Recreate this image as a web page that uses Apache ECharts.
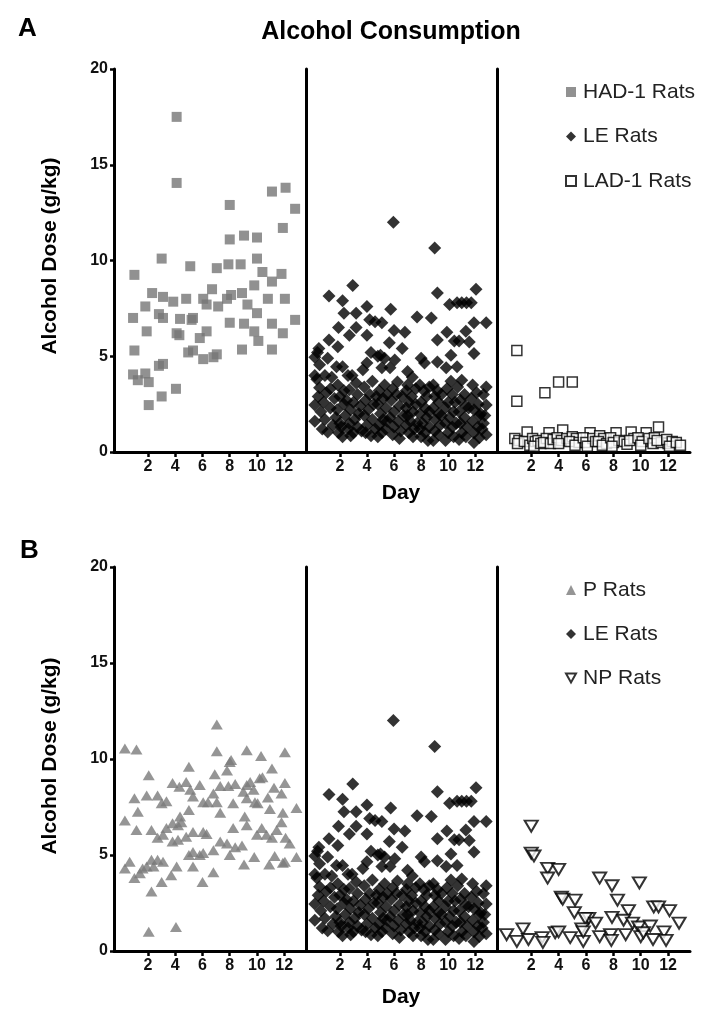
<!DOCTYPE html>
<html><head><meta charset="utf-8">
<script src="https://cdn.jsdelivr.net/npm/echarts@6/dist/echarts.min.js"></script>
<style>html,body{margin:0;padding:0;background:#fff}#c{width:715px;height:1024px}</style>
</head><body><div id="c"></div>
<script>
// ---------- DATA ----------
const dayTicks = [2, 4, 6, 8, 10, 12];
const doseMin = 0, doseMax = 20, doseStep = 5;

const legendA = ['HAD-1 Rats', 'LE Rats', 'LAD-1 Rats'];
const legendB = ['P Rats', 'LE Rats', 'NP Rats'];

// [day (jittered), dose g/kg]
const HAD1 = [
[4.1,17.5],[4.1,14.05],[11.1,13.6],[12.1,13.8],[12.8,12.7],[8.0,12.9],[11.9,11.7],[8.0,11.1],[9.05,11.3],[10.0,11.2],
[3.0,10.1],[10.0,10.1],[1.0,9.25],[5.1,9.7],[7.05,9.6],[7.9,9.8],[8.8,9.8],[10.4,9.4],[11.8,9.3],[11.1,8.9],[9.8,8.7],
[2.3,8.3],[3.1,8.1],[3.85,7.85],[4.8,8.0],[6.05,8.0],[6.3,7.7],[6.7,8.5],[7.15,7.6],[7.8,8.0],[8.1,8.2],[8.9,8.3],[9.3,7.7],[10.0,7.25],[10.8,8.0],[12.05,8.0],
[0.9,7.0],[1.8,7.6],[2.8,7.2],[3.1,7.0],[4.35,6.95],[5.2,6.9],[5.3,7.0],[1.9,6.3],[4.1,6.2],[4.3,6.1],[5.8,5.95],[6.3,6.3],[8.0,6.75],[9.05,6.7],[9.8,6.3],[10.1,5.8],[11.1,6.7],[11.9,6.2],[12.8,6.9],
[1.0,5.3],[4.95,5.2],[5.3,5.3],[6.05,4.85],[6.8,4.95],[7.05,5.1],[8.9,5.35],[11.1,5.35],[2.8,4.5],[3.1,4.6],
[0.9,4.05],[1.25,3.75],[1.8,4.1],[2.05,3.65],[3.0,2.9],[4.05,3.3],[2.05,2.45]
];

const LE = [
[0.15,4.95],[0.35,5.2],[0.45,5.4],[0.15,4.0],[0.5,4.55],[0.5,3.35],[0.15,2.45],[0.15,1.6],[1.1,4.9],[1.2,5.85],[1.2,8.15],[0.9,4.0],[1.4,3.9],[0.4,2.9],[0.8,2.6],[1.0,3.1],[0.6,2.1],[1.3,2.3],[0.9,1.7],[1.5,1.4],[0.7,1.2],[1.1,1.05],[1.6,2.8],[0.3,3.8],[1.3,3.3],
[1.9,6.5],[2.2,7.9],[2.3,7.25],[1.85,5.5],[1.75,4.45],[2.2,4.45],[1.85,3.5],[2.6,4.0],[2.0,2.9],[2.3,2.5],[1.8,2.2],[2.4,1.9],[2.0,1.5],[2.6,1.2],[1.9,1.0],[2.2,0.8],[2.5,2.7],[1.7,1.8],[2.3,3.2],[2.1,1.3],
[2.95,8.7],[3.2,7.25],[2.7,6.1],[3.2,6.5],[2.9,4.0],[2.7,3.25],[3.3,3.0],[3.0,2.6],[2.8,2.2],[3.4,2.0],[3.1,1.7],[2.7,1.5],[3.3,1.3],[3.0,1.0],[2.8,0.85],[3.5,2.4],[3.2,3.6],[3.6,1.1],
[4.0,7.6],[4.2,6.9],[4.6,6.8],[4.0,6.1],[4.3,5.2],[4.0,4.65],[3.7,4.3],[4.4,3.7],[3.8,3.4],[4.2,3.0],[3.9,2.7],[4.5,2.5],[4.1,2.2],[3.8,1.9],[4.4,1.7],[4.0,1.4],[4.6,1.2],[3.9,1.0],[4.3,0.85],[4.7,2.9],
[5.1,6.75],[4.8,5.0],[5.0,5.05],[5.3,4.9],[5.1,4.4],[5.3,3.5],[4.9,3.2],[5.2,2.8],[4.8,2.5],[5.4,2.3],[5.0,2.0],[5.2,1.7],[4.9,1.4],[5.4,1.2],[5.1,1.0],[4.8,0.8],[5.5,3.0],[5.5,1.6],
[5.95,12.0],[5.75,7.45],[6.0,6.35],[5.65,5.7],[6.05,4.8],[5.7,4.4],[6.25,3.65],[6.6,5.4],[6.8,6.25],[5.9,3.3],[6.2,3.0],[5.8,2.7],[6.4,2.4],[6.0,2.1],[5.7,1.8],[6.3,1.6],[6.0,1.3],[6.5,1.1],[5.9,0.9],[6.4,0.7],[6.6,2.9],[6.7,1.9],
[7.0,4.2],[7.35,3.9],[7.0,3.5],[6.9,3.2],[7.3,2.9],[7.1,2.6],[6.9,2.3],[7.4,2.1],[7.0,1.9],[7.2,1.6],[6.9,1.4],[7.5,1.2],[7.1,1.0],[7.4,0.8],[7.7,7.05],[7.6,3.3],[7.6,2.5],[7.7,1.5],
[8.75,7.0],[8.0,4.9],[8.25,4.65],[7.9,3.5],[8.2,3.2],[8.4,2.9],[8.0,2.6],[8.3,2.3],[7.9,2.0],[8.4,1.8],[8.1,1.5],[7.9,1.2],[8.3,1.0],[8.0,0.8],[8.5,0.6],[8.6,2.1],[8.6,3.4],[8.6,1.3],
[9.0,10.65],[9.2,8.3],[9.2,5.85],[9.2,4.7],[8.9,3.5],[9.2,3.2],[9.0,2.9],[9.3,2.6],[8.9,2.3],[9.3,2.0],[9.0,1.7],[9.4,1.4],[9.0,1.1],[9.3,0.9],[8.9,0.6],[9.5,3.0],[9.5,1.9],
[10.1,7.7],[9.9,6.25],[10.2,5.05],[10.45,5.8],[9.85,4.4],[10.2,3.7],[9.9,3.3],[10.3,3.0],[10.0,2.6],[9.8,2.3],[10.4,2.1],[10.1,1.8],[9.8,1.5],[10.3,1.3],[10.0,1.0],[10.4,0.8],[9.8,0.6],[10.5,2.6],[10.6,1.5],
[10.65,7.8],[11.0,7.8],[11.35,7.8],[10.8,5.8],[10.65,4.45],[11.3,6.3],[11.55,5.75],[11.0,3.75],[10.7,3.4],[11.2,3.0],[10.9,2.7],[11.3,2.4],[10.8,2.1],[11.2,1.8],[10.9,1.5],[11.4,1.3],[11.0,1.0],[11.3,0.8],[10.8,0.65],[11.5,2.3],
[11.7,7.8],[12.05,8.5],[11.9,6.75],[11.9,5.15],[11.8,3.5],[12.1,3.1],[11.7,2.8],[12.2,2.5],[11.9,2.2],[12.3,1.9],[11.8,1.6],[12.2,1.3],[11.9,1.0],[12.3,0.75],[11.9,0.5],[12.4,2.0],
[12.8,6.75],[12.8,3.4],[12.8,2.45],[12.8,0.9],[12.6,1.5],[12.7,1.9],[12.5,1.2],[12.6,3.0]
];

const LAD1 = [
[0.95,5.3],[0.95,2.65],[3.0,3.1],[4.0,3.65],[5.0,3.65],[11.3,1.3],[4.3,1.15],
[0.8,0.7],[1.1,0.6],[1.0,0.45],[1.7,1.05],[1.5,0.55],[1.9,0.35],
[2.1,0.7],[2.3,0.55],[2.5,0.6],[2.2,0.3],[2.7,0.45],
[3.3,1.0],[3.1,0.7],[2.9,0.5],[3.4,0.45],[3.6,0.65],
[3.9,0.75],[4.2,0.6],[4.6,0.7],[4.0,0.45],
[5.0,0.8],[5.3,0.7],[4.8,0.55],[5.5,0.5],[5.2,0.35],
[6.3,1.0],[5.8,0.75],[6.0,0.5],[6.5,0.7],[6.1,0.3],[6.7,0.55],
[7.0,0.85],[7.3,0.7],[6.9,0.55],[7.5,0.45],[7.2,0.35],
[8.2,1.0],[7.8,0.75],[8.0,0.5],[8.4,0.6],[7.9,0.3],
[9.3,1.05],[8.8,0.55],[9.0,0.4],[9.5,0.7],[9.2,0.6],
[10.4,1.0],[9.8,0.75],[10.1,0.55],[10.0,0.35],[10.6,0.7],
[11.0,0.75],[10.9,0.45],[11.5,0.5],[11.2,0.6],
[12.0,0.45],[11.9,0.65],[12.3,0.55],[12.1,0.3],
[12.6,0.5],[12.9,0.35]
];

const P = [
[0.3,10.55],[1.15,10.5],[7.05,11.8],[7.05,10.4],[8.1,9.95],[9.25,10.45],[10.3,10.15],[12.05,10.35],[5.0,9.6],
[8.0,9.85],[11.1,9.5],[2.05,9.15],[6.9,9.2],[7.8,9.4],[10.2,9.0],[10.4,9.05],
[3.8,8.75],[4.3,8.55],[4.8,8.8],[5.1,8.4],[5.8,8.65],[7.3,8.6],[7.9,8.6],[8.4,8.7],[9.25,8.65],[9.5,8.8],[9.75,8.4],[11.25,8.5],[12.05,8.75],[11.8,8.2],
[1.0,7.95],[1.9,8.1],[2.7,8.1],[3.0,7.7],[3.35,7.8],[5.3,8.05],[6.05,7.75],[6.4,7.75],[6.8,8.2],[7.05,7.75],[8.25,7.7],[9.0,8.3],[9.25,7.95],[9.85,7.75],[10.05,7.7],[10.8,8.0],[10.95,7.4],[11.9,7.2],[12.9,7.45],
[0.3,6.8],[1.25,7.25],[5.0,7.35],[7.3,7.2],[4.35,7.0],[9.1,7.0],[9.25,6.55],
[1.15,6.3],[2.25,6.3],[2.7,5.9],[3.1,6.05],[3.35,6.4],[3.8,6.65],[4.2,6.55],[4.45,6.7],[3.8,5.7],[4.2,5.8],[4.8,5.95],[5.3,6.2],[6.05,6.2],[6.3,6.1],[8.25,6.4],[10.0,6.05],[10.35,6.4],[10.7,6.05],[11.1,5.9],[11.45,6.3],[11.8,6.7],[12.1,5.9],[12.4,5.6],
[0.3,4.3],[0.65,4.65],[1.0,3.8],[1.4,4.05],[1.6,4.3],[1.9,4.4],[2.25,4.75],[2.4,4.4],[2.7,4.75],[3.1,4.65],[3.0,3.6],[2.25,3.1],[3.7,3.95],[4.1,4.4],[5.0,5.0],[5.3,5.15],[5.8,5.0],[6.05,5.1],[5.3,4.4],[6.0,3.6],[6.8,4.1],[6.8,5.25],[7.3,5.7],[8.0,5.0],[7.8,5.6],[8.4,5.4],[8.9,5.5],[9.05,4.5],[9.8,4.9],[10.9,4.5],[11.3,4.95],[11.9,4.6],[12.05,4.65],[12.9,4.9],
[2.05,1.0],[4.05,1.25]
];

const NP = [
[2.0,6.5],[2.0,5.1],[2.2,4.95],[3.2,4.3],[3.2,3.8],[4.0,4.25],[4.2,2.8],[4.3,2.7],[5.2,2.65],[5.15,2.0],[7.0,3.8],[7.9,3.4],[8.3,2.65],[9.9,3.55],[9.1,2.1],[10.95,2.3],[11.3,2.3],[12.1,2.1],[12.8,1.45],
[6.2,1.7],[5.95,1.7],[6.7,1.45],[7.9,1.75],[8.75,1.6],[9.4,1.45],[9.85,1.25],[10.7,1.3],[5.7,1.15],[1.4,1.15],
[0.2,0.85],[0.95,0.5],[1.8,0.6],[2.8,0.7],[2.85,0.45],[3.75,0.95],[4.0,1.0],[4.85,0.7],[5.8,0.5],[5.8,1.0],[7.0,0.75],[7.8,0.85],[7.85,0.55],[8.9,0.85],[10.0,0.75],[10.2,0.95],[10.9,0.6],[11.7,1.0],[11.85,0.55]
];

// ---------- CHART ----------
const FONT = '"Liberation Sans", Arial, Helvetica, sans-serif';
const chart = echarts.init(document.getElementById('c'), null, {renderer: 'canvas'});

const lefts = [114, 306, 497];
const widths = [192, 191, 193];
const tops = [69, 567];
const heights = [383, 384];

const grids = [];
for (let p = 0; p < 2; p++) for (let k = 0; k < 3; k++)
  grids.push({left: lefts[k], top: tops[p], width: widths[k], height: heights[p], containLabel: false, outerBoundsMode: 'none'});

const xAxes = grids.map((g, i) => ({
  gridIndex: i, type: 'value', min: -0.5, max: 13.6,
  axisLine: {show: true, onZero: false, lineStyle: {color: '#000', width: 3}},
  axisTick: {show: true, customValues: dayTicks, length: 5, lineStyle: {color: '#000', width: 2.5}},
  axisLabel: {customValues: dayTicks, color: '#111', fontWeight: 'bold', fontSize: 16, fontFamily: FONT, margin: 7},
  splitLine: {show: false}
}));

const yAxes = grids.map((g, i) => {
  const first = (i % 3) === 0;
  return {
    gridIndex: i, type: 'value', min: doseMin, max: doseMax, interval: doseStep,
    axisLine: {show: true, onZero: false, lineStyle: {color: '#000', width: 3}},
    axisTick: {show: first, length: 4, lineStyle: {color: '#000', width: 2.5}},
    axisLabel: {show: first, color: '#111', fontWeight: 'bold', fontSize: 16, fontFamily: FONT, margin: 6},
    splitLine: {show: false}
  };
});

const series = [
  {name: 'HAD-1 Rats', type: 'scatter', xAxisIndex: 0, yAxisIndex: 0, data: HAD1, symbol: 'rect', symbolSize: 10, itemStyle: {color: '#757575'}},
  {name: 'LE Rats', type: 'scatter', xAxisIndex: 1, yAxisIndex: 1, data: LE, symbol: 'diamond', symbolSize: 13, itemStyle: {color: '#000'}},
  {name: 'LAD-1 Rats', type: 'scatter', xAxisIndex: 2, yAxisIndex: 2, data: LAD1, symbol: 'rect', symbolSize: 10, itemStyle: {color: '#fff', borderColor: '#000', borderWidth: 1.5}},
  {name: 'P Rats', type: 'scatter', xAxisIndex: 3, yAxisIndex: 3, data: P, symbol: 'triangle', symbolSize: [12, 10], itemStyle: {color: '#7a7a7a'}},
  {name: 'LE Rats', type: 'scatter', xAxisIndex: 4, yAxisIndex: 4, data: LE, symbol: 'diamond', symbolSize: 13, itemStyle: {color: '#000'}},
  {name: 'NP Rats', type: 'scatter', xAxisIndex: 5, yAxisIndex: 5, data: NP, symbol: 'triangle', symbolRotate: 180, symbolSize: [13, 11], itemStyle: {color: '#fff', borderColor: '#000', borderWidth: 2}}
];
series.forEach(s => { s.emphasis = {disabled: true}; s.animation = false; });

const DOWN_TRI = 'path://M0,0 L10,0 L5,9 Z';
const legendCommon = {
  orient: 'vertical', left: 560, itemWidth: 10, itemHeight: 10, selectedMode: false,
  textStyle: {fontSize: 21, fontFamily: FONT, color: '#222', lineHeight: 22, padding: [0, 0, 0, 2]}
};

const option = {
  backgroundColor: '#fff',
  animation: false,
  grid: grids, xAxis: xAxes, yAxis: yAxes, series: series,
  legend: [
    Object.assign({}, legendCommon, {top: 76, itemGap: 22.5, data: [
      {name: legendA[0], itemStyle: {borderWidth: 0}}, legendA[1], legendA[2]]}),
    Object.assign({}, legendCommon, {top: 574, itemGap: 22, data: [
      legendB[0], legendB[1], {name: legendB[2], icon: DOWN_TRI}]})
  ],
  graphic: [
    {type: 'text', left: 18, top: 16, style: {text: 'A', font: 'bold 26px ' + FONT, fill: '#000'}},
    {type: 'text', left: 20, top: 538, style: {text: 'B', font: 'bold 26px ' + FONT, fill: '#000'}},
    {type: 'text', x: 391, y: 32, style: {text: 'Alcohol Consumption', font: 'bold 25px ' + FONT, fill: '#000', align: 'center', verticalAlign: 'middle'}},
    {type: 'text', x: 50, y: 256, rotation: Math.PI / 2, style: {text: 'Alcohol Dose (g/kg)', font: 'bold 21px ' + FONT, fill: '#000', align: 'center', verticalAlign: 'middle'}},
    {type: 'text', x: 50, y: 756, rotation: Math.PI / 2, style: {text: 'Alcohol Dose (g/kg)', font: 'bold 21px ' + FONT, fill: '#000', align: 'center', verticalAlign: 'middle'}},
    {type: 'text', x: 401, y: 493, style: {text: 'Day', font: 'bold 21px ' + FONT, fill: '#000', align: 'center', verticalAlign: 'middle'}},
    {type: 'text', x: 401, y: 997, style: {text: 'Day', font: 'bold 21px ' + FONT, fill: '#000', align: 'center', verticalAlign: 'middle'}}
  ]
};
chart.setOption(option);
</script>
</body></html>
